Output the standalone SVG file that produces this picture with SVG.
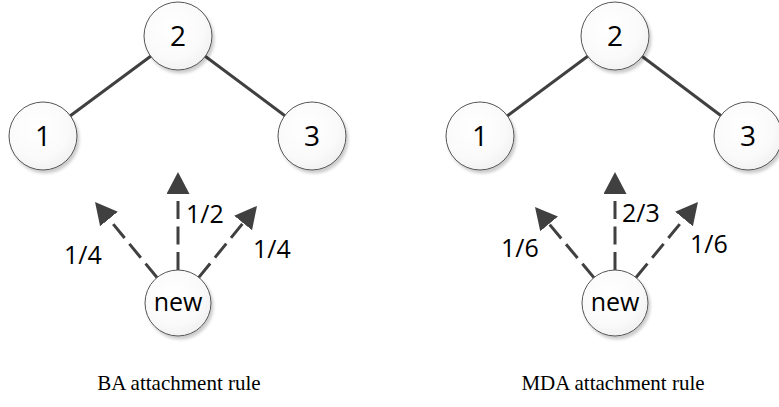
<svg xmlns="http://www.w3.org/2000/svg" width="779" height="407" viewBox="0 0 779 407">
  <defs>
    <radialGradient id="nodeFill" cx="0.42" cy="0.38" r="0.7">
      <stop offset="0" stop-color="#ffffff"/>
      <stop offset="0.65" stop-color="#fafafa"/>
      <stop offset="1" stop-color="#eeeeee"/>
    </radialGradient>
    <filter id="shadow" x="-30%" y="-30%" width="160%" height="160%">
      <feGaussianBlur in="SourceAlpha" stdDeviation="1.6"/>
      <feOffset dx="2" dy="2.5" result="blur"/>
      <feFlood flood-color="#000000" flood-opacity="0.2"/>
      <feComposite in2="blur" operator="in"/>
      <feMerge>
        <feMergeNode/>
        <feMergeNode in="SourceGraphic"/>
      </feMerge>
    </filter>
    <marker id="head" markerUnits="userSpaceOnUse" viewBox="0 0 22 23" markerWidth="22" markerHeight="23" refX="0" refY="11.5" orient="auto">
      <path d="M0,0 L22,11.5 L0,23 Z" fill="#404040"/>
    </marker>
  </defs>
  <style>
    .node circle { fill: url(#nodeFill); stroke: #555555; stroke-width: 1; filter: url(#shadow); }
    .node text { font-family: "Open Sans", "Noto Sans", sans-serif; font-size: 28px; fill: #000; text-anchor: middle; }
    .node text.small { font-size: 25px; }
    .edge { stroke: #404040; stroke-width: 3; fill: none; }
    .link { stroke: #404040; stroke-width: 3; fill: none; stroke-dasharray: 18 7.5; marker-end: url(#head); }
    .prob { font-family: "Open Sans", "Noto Sans", sans-serif; font-size: 25px; fill: #000; }
    .caption { font-family: "Liberation Serif", "Times New Roman", serif; font-size: 21px; fill: #000; text-anchor: middle; }
  </style>

  <!-- connectors: tree edges and dashed attachment arrows -->
  <g id="connectors">
    <line class="edge" x1="43" y1="136" x2="178" y2="36"/>
    <line class="edge" x1="178" y1="36" x2="312" y2="136"/>
    <line class="edge" x1="480" y1="136" x2="615" y2="36"/>
    <line class="edge" x1="615" y1="36" x2="748" y2="136"/>

    <line class="link" x1="157" y1="277.5" x2="109" y2="219"/>
    <line class="link" x1="178" y1="270" x2="178" y2="194"/>
    <line class="link" x1="198.8" y1="277.4" x2="243.1" y2="223"/>

    <line class="link" x1="593.9" y1="277.6" x2="549.1" y2="223.9"/>
    <line class="link" x1="615" y1="270" x2="615" y2="194"/>
    <line class="link" x1="636" y1="277.5" x2="684" y2="219"/>
  </g>

  <!-- BA panel -->
  <g id="ba-node-2" class="node"><circle cx="178" cy="36" r="34"/><text x="178" y="46">2</text></g>
  <g id="ba-node-1" class="node"><circle cx="43" cy="136" r="34"/><text x="43" y="146">1</text></g>
  <g id="ba-node-3" class="node"><circle cx="312" cy="136" r="34"/><text x="312" y="146">3</text></g>
  <g id="ba-node-new" class="node"><circle cx="178" cy="303" r="33"/><text class="small" x="178" y="311">new</text></g>
  <g id="ba-labels">
    <text class="prob" x="64" y="264">1/4</text>
    <text class="prob" x="186" y="223">1/2</text>
    <text class="prob" x="253" y="258">1/4</text>
  </g>
  <text class="caption" x="179" y="390">BA attachment rule</text>

  <!-- MDA panel -->
  <g id="mda-node-2" class="node"><circle cx="615" cy="36" r="34"/><text x="615" y="46">2</text></g>
  <g id="mda-node-1" class="node"><circle cx="480" cy="136" r="34"/><text x="480" y="146">1</text></g>
  <g id="mda-node-3" class="node"><circle cx="748" cy="136" r="34"/><text x="748" y="146">3</text></g>
  <g id="mda-node-new" class="node"><circle cx="615" cy="303" r="33"/><text class="small" x="615" y="311">new</text></g>
  <g id="mda-labels">
    <text class="prob" x="501" y="257">1/6</text>
    <text class="prob" x="622" y="222">2/3</text>
    <text class="prob" x="690" y="253">1/6</text>
  </g>
  <text class="caption" x="613" y="390">MDA attachment rule</text>
</svg>
